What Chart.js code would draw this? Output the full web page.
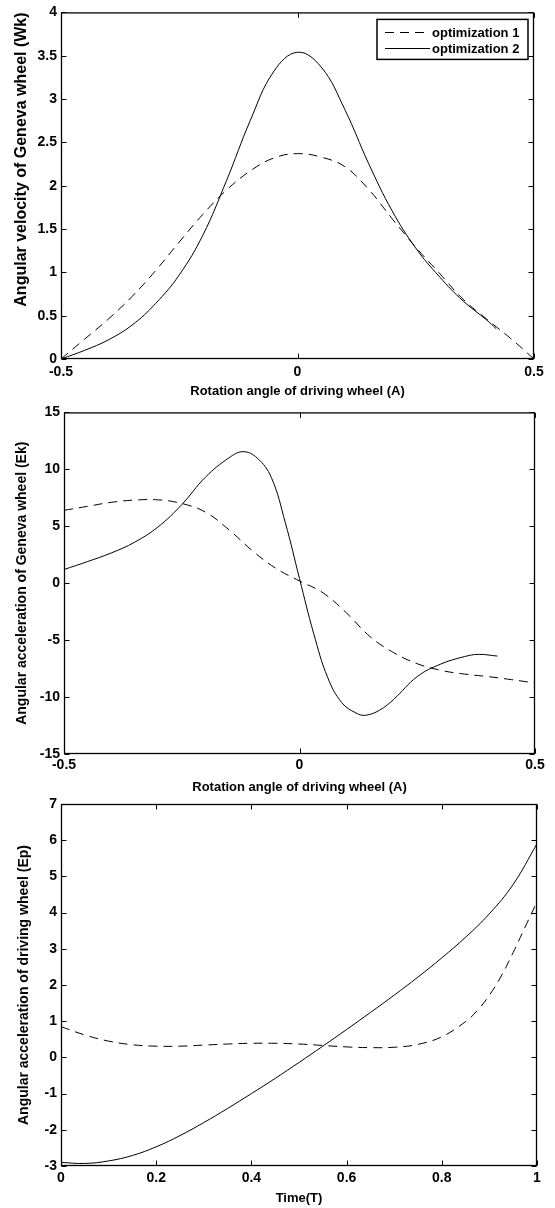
<!DOCTYPE html>
<html>
<head>
<meta charset="utf-8">
<title>Geneva wheel - optimization 1 vs optimization 2</title>
<script src="https://cdn.jsdelivr.net/npm/chart.js@4.4.1/dist/chart.umd.min.js"></script>
<style>
    html, body { margin: 0; padding: 0; background: #fff; }
    #wrap { position: relative; width: 555px; height: 1208px; overflow: hidden; }
    canvas { position: absolute; left: 0; }
</style>
</head>
<body>
<div id="wrap">
    <canvas id="velocityChart" width="555" height="400" style="top:0"></canvas>
    <canvas id="gAccelChart" width="555" height="400" style="top:400px"></canvas>
    <canvas id="pAccelChart" width="555" height="418" style="top:790px"></canvas>
</div>

<script>
// ---- data ----
const seriesNames = ['optimization 1', 'optimization 2'];

// Angular velocity of Geneva wheel (Wk) vs rotation angle of driving wheel (A)
const velAngle1 = [-0.5, -0.45, -0.4, -0.35, -0.3, -0.25, -0.2, -0.15, -0.1, -0.05, 0, 0.05, 0.1, 0.15, 0.2, 0.25, 0.3, 0.35, 0.4, 0.45, 0.5];
const velOpt1   = [0, 0.23, 0.46, 0.72, 1.02, 1.35, 1.67, 1.95, 2.17, 2.32, 2.37, 2.33, 2.22, 1.96, 1.62, 1.29, 0.99, 0.69, 0.46, 0.24, 0];
const velAngle2 = [-0.5, -0.45, -0.4, -0.35, -0.3, -0.25, -0.2, -0.15, -0.1, -0.05, 0, 0.05, 0.1, 0.15, 0.2, 0.25, 0.3, 0.35, 0.4, 0.42];
const velOpt2   = [0, 0.10, 0.22, 0.39, 0.64, 0.97, 1.43, 2.06, 2.75, 3.32, 3.54, 3.37, 2.88, 2.26, 1.71, 1.28, 0.95, 0.67, 0.45, 0.35];

// Angular acceleration of Geneva wheel (Ek) vs rotation angle of driving wheel (A)
const accAngle1 = [-0.5, -0.45, -0.4, -0.35, -0.3, -0.25, -0.2, -0.15, -0.1, -0.05, 0, 0.05, 0.1, 0.15, 0.2, 0.25, 0.3, 0.35, 0.4, 0.45, 0.5];
const accOpt1   = [6.4, 6.75, 7.1, 7.3, 7.32, 7.0, 6.25, 4.7, 2.85, 1.3, 0.2, -0.85, -2.62, -4.7, -6.1, -7.07, -7.65, -7.98, -8.2, -8.47, -8.76];
const accAngle2 = [-0.5, -0.45, -0.4, -0.35, -0.3, -0.25, -0.2, -0.15, -0.12, -0.09, -0.06, -0.03, 0, 0.03, 0.06, 0.09, 0.12, 0.14, 0.17, 0.2, 0.25, 0.3, 0.35, 0.38, 0.42];
const accOpt2   = [1.2, 1.9, 2.65, 3.6, 4.95, 6.9, 9.3, 11.0, 11.55, 11.0, 9.3, 5.3, 0.4, -4.4, -8.3, -10.5, -11.4, -11.6, -11.15, -10.2, -8.2, -7.1, -6.45, -6.25, -6.4];

// Angular acceleration of driving wheel (Ep) vs time (T)
const timeT1 = [0, 0.05, 0.1, 0.15, 0.2, 0.25, 0.3, 0.35, 0.4, 0.45, 0.5, 0.55, 0.6, 0.65, 0.7, 0.75, 0.8, 0.85, 0.875, 0.9, 0.925, 0.95, 0.975, 1];
const epOpt1 = [0.85, 0.62, 0.45, 0.35, 0.31, 0.31, 0.34, 0.37, 0.39, 0.39, 0.37, 0.33, 0.29, 0.27, 0.28, 0.36, 0.57, 0.99, 1.3, 1.72, 2.25, 2.9, 3.6, 4.3];
const timeT2 = [0, 0.05, 0.1, 0.15, 0.2, 0.25, 0.3, 0.35, 0.4, 0.45, 0.5, 0.55, 0.6, 0.65, 0.7, 0.75, 0.8, 0.85, 0.9, 0.95, 1];
const epOpt2 = [-2.9, -2.93, -2.86, -2.71, -2.47, -2.16, -1.8, -1.41, -1.0, -0.58, -0.14, 0.31, 0.77, 1.24, 1.72, 2.22, 2.75, 3.32, 3.97, 4.78, 5.9];

// tick values and labels
const angleTicks = [-0.5, 0, 0.5];
const angleTickLabels = ['-0.5', '0', '0.5'];
const velTicks = [0, 0.5, 1, 1.5, 2, 2.5, 3, 3.5, 4];
const velTickLabels = ['0', '0.5', '1', '1.5', '2', '2.5', '3', '3.5', '4'];
const accTicks = [-15, -10, -5, 0, 5, 10, 15];
const accTickLabels = ['-15', '-10', '-5', '0', '5', '10', '15'];
const timeTicks = [0, 0.2, 0.4, 0.6, 0.8, 1];
const timeTickLabels = ['0', '0.2', '0.4', '0.6', '0.8', '1'];
const epTicks = [-3, -2, -1, 0, 1, 2, 3, 4, 5, 6, 7];
const epTickLabels = ['-3', '-2', '-1', '0', '1', '2', '3', '4', '5', '6', '7'];

const FONT = "'Liberation Sans', Arial, Helvetica, sans-serif";

function toPoints(xs, ys) {
    return xs.map((x, i) => ({ x: x, y: ys[i] }));
}

// Matlab style box: full frame plus inward tick marks on all four sides
const boxFrame = {
    id: 'boxFrame',
    afterDatasetsDraw(chart) {
        const { ctx, chartArea: a, scales } = chart;
        const L = a.left + 0.5, R = a.right - 0.5, T = a.top + 0.5, B = a.bottom - 0.5;
        const len = 5;
        ctx.save();
        ctx.strokeStyle = '#000';
        ctx.lineWidth = 1;
        ctx.beginPath();
        scales.x.ticks.forEach(t => {
            const px = Math.round(scales.x.getPixelForValue(t.value)) + 0.5;
            ctx.moveTo(px, B); ctx.lineTo(px, B - len);
            ctx.moveTo(px, T); ctx.lineTo(px, T + len);
        });
        scales.y.ticks.forEach(t => {
            const py = Math.round(scales.y.getPixelForValue(t.value)) + 0.5;
            ctx.moveTo(L, py); ctx.lineTo(L + len, py);
            ctx.moveTo(R, py); ctx.lineTo(R - len, py);
        });
        ctx.stroke();
        ctx.lineWidth = 1.3;
        ctx.strokeRect(L, T, R - L, B - T);
        ctx.restore();
    }
};

// boxed legend in the upper right corner (only used on the first plot)
const boxLegend = {
    id: 'boxLegend',
    afterDraw(chart) {
        const { ctx, chartArea: a } = chart;
        const w = 151, h = 40;
        const left = a.right - 6 - w, top = a.top + 7;
        ctx.save();
        ctx.fillStyle = '#fff';
        ctx.fillRect(left, top, w, h);
        ctx.strokeStyle = '#000';
        ctx.lineWidth = 1.5;
        ctx.strokeRect(left, top, w, h);
        ctx.font = 'bold 13px ' + FONT;
        ctx.textBaseline = 'middle';
        ctx.textAlign = 'left';
        chart.data.datasets.forEach((ds, i) => {
            const cy = Math.round(top + 12.5 + i * 16.5) + 0.5;
            ctx.lineWidth = 1;
            ctx.setLineDash(ds.borderDash || []);
            ctx.beginPath();
            ctx.moveTo(left + 8, cy);
            ctx.lineTo(left + 53, cy);
            ctx.stroke();
            ctx.setLineDash([]);
            ctx.fillStyle = '#000';
            ctx.fillText(ds.label, left + 55, cy + 0.5);
        });
        ctx.restore();
    }
};

function makePlot(canvasId, cfg) {
    const ctx = document.getElementById(canvasId);
    const plugins = [boxFrame];
    if (cfg.legend) plugins.push(boxLegend);

    return new Chart(ctx, {
        type: 'line',
        data: {
            datasets: [{
                label: seriesNames[0],
                data: toPoints(cfg.x1, cfg.y1),
                borderColor: '#000',
                borderWidth: 1,
                borderDash: [9, 6],
                pointRadius: 0,
                fill: false,
                tension: 0.4
            }, {
                label: seriesNames[1],
                data: toPoints(cfg.x2, cfg.y2),
                borderColor: '#000',
                borderWidth: 1,
                pointRadius: 0,
                fill: false,
                tension: 0.4
            }]
        },
        options: {
            responsive: false,
            animation: false,
            events: [],
            layout: { padding: { top: cfg.padTop, right: cfg.padRight, left: 0, bottom: 0 } },
            plugins: {
                legend: { display: false },
                tooltip: { enabled: false }
            },
            scales: {
                x: {
                    type: 'linear',
                    min: cfg.xTicks[0],
                    max: cfg.xTicks[cfg.xTicks.length - 1],
                    grid: { display: false, drawTicks: false },
                    border: { display: false },
                    afterBuildTicks: scale => { scale.ticks = cfg.xTicks.map(v => ({ value: v })); },
                    afterFit: scale => { scale.height = cfg.xAxisHeight; },
                    ticks: {
                        autoSkip: false,
                        maxRotation: 0,
                        minRotation: 0,
                        padding: cfg.xTickPad,
                        color: '#000',
                        font: { family: FONT, size: 14, weight: 'bold' },
                        callback: (v, i) => cfg.xLabels[i]
                    },
                    title: {
                        display: true,
                        text: cfg.xTitle,
                        color: '#000',
                        font: { family: FONT, size: 13, weight: 'bold' },
                        padding: { top: 0, bottom: cfg.xTitlePad }
                    }
                },
                y: {
                    type: 'linear',
                    min: cfg.yTicks[0],
                    max: cfg.yTicks[cfg.yTicks.length - 1],
                    grid: { display: false, drawTicks: false },
                    border: { display: false },
                    afterBuildTicks: scale => { scale.ticks = cfg.yTicks.map(v => ({ value: v })); },
                    afterFit: scale => { scale.width = cfg.yAxisWidth; },
                    ticks: {
                        autoSkip: false,
                        padding: 4,
                        color: '#000',
                        font: { family: FONT, size: 14, weight: 'bold' },
                        callback: (v, i) => cfg.yLabels[i]
                    },
                    title: {
                        display: true,
                        text: cfg.yTitle,
                        align: cfg.yTitleAlign,
                        color: '#000',
                        font: { family: FONT, size: cfg.yTitleSize, weight: 'bold' },
                        padding: { top: cfg.yTitlePad, bottom: 0 }
                    }
                }
            }
        },
        plugins: plugins
    });
}

document.addEventListener('DOMContentLoaded', function() {
    // Angular velocity of Geneva wheel
    makePlot('velocityChart', {
        x1: velAngle1, y1: velOpt1, x2: velAngle2, y2: velOpt2,
        xTicks: angleTicks, xLabels: angleTickLabels,
        yTicks: velTicks, yLabels: velTickLabels,
        xTitle: 'Rotation angle of driving wheel (A)',
        yTitle: 'Angular velocity of Geneva wheel (Wk)',
        yTitleSize: 16, yTitleAlign: 'end',
        padTop: 11, padRight: 21, yAxisWidth: 61, xAxisHeight: 41,
        xTickPad: 5, xTitlePad: 1, yTitlePad: 12,
        legend: true
    });

    // Angular acceleration of Geneva wheel
    makePlot('gAccelChart', {
        x1: accAngle1, y1: accOpt1, x2: accAngle2, y2: accOpt2,
        xTicks: angleTicks, xLabels: angleTickLabels,
        yTicks: accTicks, yLabels: accTickLabels,
        xTitle: 'Rotation angle of driving wheel (A)',
        yTitle: 'Angular acceleration of Geneva wheel (Ek)',
        yTitleSize: 14, yTitleAlign: 'center',
        padTop: 8, padRight: 20, yAxisWidth: 64, xAxisHeight: 46,
        xTickPad: 3, xTitlePad: 5, yTitlePad: 14,
        legend: false
    });

    // Angular acceleration of driving wheel
    makePlot('pAccelChart', {
        x1: timeT1, y1: epOpt1, x2: timeT2, y2: epOpt2,
        xTicks: timeTicks, xLabels: timeTickLabels,
        yTicks: epTicks, yLabels: epTickLabels,
        xTitle: 'Time(T)',
        yTitle: 'Angular acceleration of driving wheel (Ep)',
        yTitleSize: 14, yTitleAlign: 'center',
        padTop: 14, padRight: 18, yAxisWidth: 61, xAxisHeight: 42,
        xTickPad: 4, xTitlePad: 2, yTitlePad: 16,
        legend: false
    });
});
</script>
</body>
</html>
